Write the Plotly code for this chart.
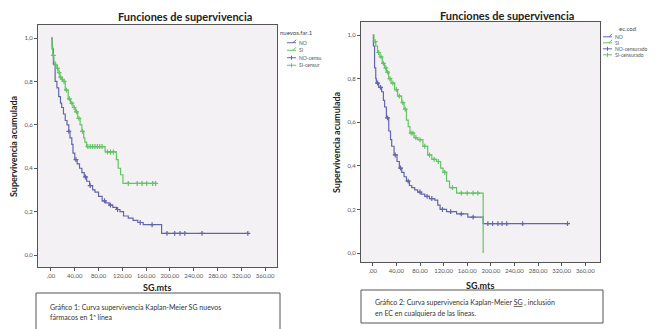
import numpy as np
import plotly.graph_objects as go

W, H = 655, 329

# ---- Kaplan-Meier estimates (time in months, cumulative survival) ----
# Panel 1: nuevos.far.1
p1_no_t = [0, 2, 4, 7, 10, 13, 16, 18, 21, 24, 27, 30, 32, 35, 37, 40, 44, 48, 52, 56,
           60, 65, 70, 74, 80, 86, 92, 98, 104, 110, 116, 122, 130, 138, 146, 155, 186]
p1_no_s = [1.0, 0.95, 0.88, 0.80, 0.77, 0.73, 0.70, 0.68, 0.65, 0.62, 0.60, 0.57, 0.54,
           0.51, 0.47, 0.44, 0.42, 0.40, 0.38, 0.36, 0.34, 0.32, 0.30, 0.29, 0.27, 0.25,
           0.24, 0.23, 0.22, 0.21, 0.20, 0.18, 0.17, 0.16, 0.15, 0.14, 0.10]
p1_no_end = 331
p1_no_cens = [30, 42, 58, 66, 90, 100, 112, 150, 170, 195, 208, 217, 225, 254, 331]

p1_si_t = [0, 2, 3, 5, 7, 10, 12, 15, 18, 20, 24, 29, 33, 37, 41, 45, 49, 52, 55, 57,
           60, 91, 110, 113, 117, 121]
p1_si_s = [1.0, 0.96, 0.92, 0.89, 0.875, 0.86, 0.84, 0.82, 0.81, 0.80, 0.76, 0.72, 0.70,
           0.68, 0.66, 0.63, 0.60, 0.57, 0.54, 0.52, 0.50, 0.475, 0.44, 0.40, 0.37, 0.33]
p1_si_end = 176
p1_si_cens = [4, 8, 11, 14, 16, 19, 22, 26, 31, 35, 39, 43, 47, 53, 62, 66, 70, 74, 78,
              82, 86, 95, 100, 105, 130, 145, 153, 161, 171, 176]

# Panel 2: ec.cod
p2_no_t = [0, 1, 3, 5, 6, 10, 15, 18, 20, 23, 27, 30, 32, 36, 41, 45, 49, 53, 57, 62,
           66, 71, 76, 82, 88, 96, 105, 110, 114, 125, 142, 161, 187]
p2_no_s = [1.0, 0.95, 0.85, 0.80, 0.78, 0.76, 0.74, 0.70, 0.67, 0.62, 0.56, 0.52, 0.49,
           0.45, 0.42, 0.39, 0.37, 0.35, 0.33, 0.31, 0.30, 0.29, 0.28, 0.27, 0.26, 0.25,
           0.243, 0.22, 0.20, 0.19, 0.18, 0.165, 0.135]
p2_no_end = 330
p2_no_cens = [8, 13, 25, 38, 47, 60, 80, 92, 100, 118, 132, 150, 170, 195, 203, 212,
              219, 227, 254, 330]

p2_si_t = [0, 2, 5, 8, 12, 16, 20, 23, 27, 31, 37, 42, 49, 53, 57, 60, 63, 70, 76, 85,
           93, 100, 108, 115, 119, 125, 130, 142, 187]
p2_si_s = [1.0, 0.97, 0.95, 0.92, 0.90, 0.87, 0.85, 0.83, 0.80, 0.78, 0.75, 0.72, 0.69,
           0.66, 0.61, 0.58, 0.55, 0.53, 0.52, 0.49, 0.45, 0.43, 0.42, 0.39, 0.37, 0.33,
           0.30, 0.275, 0.0]
p2_si_end = 187
p2_si_cens = [4, 10, 14, 18, 22, 25, 29, 34, 40, 45, 51, 55, 65, 68, 73, 80, 88, 96,
              104, 111, 122, 135, 150, 160, 170, 178]

x_ticks = [0, 40, 80, 120, 160, 200, 240, 280, 320, 360]
x_ticklabels = [",00", "40,00", "80,00", "120,00", "160,00", "200,00", "240,00",
                "280,00", "320,00", "360,00"]
y_ticks = [0.0, 0.2, 0.4, 0.6, 0.8, 1.0]
y_ticklabels = ["0,0", "0,2", "0,4", "0,6", "0,8", "1,0"]

BLUE = "#6266aa"
GREEN = "#62c462"
FONT = "Lato"


def px(x):
    return x / W


def py(y):
    return 1 - y / H


def step_value(ts, ss, t):
    idx = np.searchsorted(np.asarray(ts), t, side="right") - 1
    return np.asarray(ss)[idx]


fig = go.Figure()


def add_curve(ts, ss, t_end, cens, color, xa, ya):
    xs = list(ts) + [t_end]
    ys = list(ss) + [ss[-1]]
    fig.add_trace(go.Scatter(x=xs, y=ys, mode="lines", line=dict(color=color, width=1.2, shape="hv"),
                             xaxis=xa, yaxis=ya, showlegend=False, hoverinfo="skip"))
    cy = [float(step_value(ts, ss, c)) for c in cens]
    fig.add_trace(go.Scatter(x=cens, y=cy, mode="markers",
                             marker=dict(symbol="cross-thin", size=3.5, line=dict(color=color, width=1.2)),
                             xaxis=xa, yaxis=ya, showlegend=False, hoverinfo="skip"))


add_curve(p1_no_t, p1_no_s, p1_no_end, p1_no_cens, BLUE, "x", "y")
add_curve(p1_si_t, p1_si_s, p1_si_end, p1_si_cens, GREEN, "x", "y")
add_curve(p2_no_t, p2_no_s, p2_no_end, p2_no_cens, BLUE, "x2", "y2")
add_curve(p2_si_t, p2_si_s, p2_si_end, p2_si_cens, GREEN, "x2", "y2")

axis_common = dict(showgrid=False, zeroline=False, showline=True, mirror=True,
                   linecolor="#555", linewidth=1, ticks="outside", ticklen=3,
                   tickcolor="#555", tickfont=dict(family=FONT, size=6, color="#555"))

fig.update_layout(
    width=W, height=H, margin=dict(l=0, r=0, t=0, b=0),
    paper_bgcolor="white", plot_bgcolor="#f4f1f4", showlegend=False,
    xaxis=dict(domain=[px(38), px(277)], range=[-21.8, 380], tickvals=x_ticks,
               ticktext=x_ticklabels, anchor="y", **axis_common),
    yaxis=dict(domain=[py(267), py(25)], range=[-0.055, 1.06], tickvals=y_ticks,
               ticktext=y_ticklabels, anchor="x", **axis_common),
    xaxis2=dict(domain=[px(361), px(600)], range=[-20, 385], tickvals=x_ticks,
                ticktext=x_ticklabels, anchor="y2", **axis_common),
    yaxis2=dict(domain=[py(262), py(22)], range=[-0.041, 1.06], tickvals=y_ticks,
                ticktext=y_ticklabels, anchor="x2", **axis_common),
)

ann = []
shapes = []


def text(x, y, s, size, bold=False, xanchor="center", angle=0, color="#333"):
    ann.append(dict(x=px(x), y=py(y), xref="paper", yref="paper", text=(f"<b>{s}</b>" if bold else s),
                    showarrow=False, xanchor=xanchor, yanchor="middle", textangle=angle,
                    font=dict(family=FONT, size=size, color=color)))


# chart titles
text(185, 17, "Funciones de supervivencia", 11, bold=True, color="#222")
text(507, 15, "Funciones de supervivencia", 11, bold=True, color="#222")
# axis titles
text(157, 287, "SG.mts", 9, bold=True, color="#222")
text(480, 285, "SG.mts", 9, bold=True, color="#222")
text(13, 146, "Supervivencia acumulada", 9, bold=True, angle=-90, color="#222")
text(336, 142, "Supervivencia acumulada", 9, bold=True, angle=-90, color="#222")


# legends
def legend(x0, ytitle, title, items, step, tx_title):
    text(tx_title, ytitle, title, 6, xanchor="left", color="#444")
    for i, (lab, col, cens) in enumerate(items):
        yy = ytitle + step * (i + 1.3)
        shapes.append(dict(type="line", xref="paper", yref="paper", x0=px(x0), x1=px(x0 + 9),
                           y0=py(yy), y1=py(yy), line=dict(color=col, width=1)))
        if cens:
            shapes.append(dict(type="line", xref="paper", yref="paper", x0=px(x0 + 4.5),
                               x1=px(x0 + 4.5), y0=py(yy - 2), y1=py(yy + 2),
                               line=dict(color=col, width=1)))
        else:
            shapes.append(dict(type="line", xref="paper", yref="paper", x0=px(x0 + 6),
                               x1=px(x0 + 9), y0=py(yy), y1=py(yy - 3),
                               line=dict(color=col, width=1)))
        text(x0 + 10, yy, lab, 5, xanchor="left", color="#555")


legend(287, 33, "nuevos.far.1",
       [("NO", BLUE, False), ("SI", GREEN, False), ("NO-censu", BLUE, True), ("SI-censur", GREEN, True)],
       7.5, 278)
legend(603, 29, "ec.cod",
       [("NO", BLUE, False), ("SI", GREEN, False), ("NO-censurado", BLUE, True), ("SI-censurado", GREEN, True)],
       6, 617)

# caption boxes
shapes.append(dict(type="rect", xref="paper", yref="paper", x0=px(36), x1=px(280),
                   y0=py(335), y1=py(293), line=dict(color="#555", width=1), fillcolor="white"))
shapes.append(dict(type="rect", xref="paper", yref="paper", x0=px(361), x1=px(603),
                   y0=py(323), y1=py(290), line=dict(color="#555", width=1), fillcolor="white"))
text(48, 307, "Gráfico 1: Curva supervivencia Kaplan-Meier SG nuevos", 7, xanchor="left")
text(48, 317, "fármacos en 1ª línea", 7, xanchor="left")
text(373, 302, "Gráfico 2: Curva supervivencia Kaplan-Meier <u>SG</u> , inclusión", 7, xanchor="left")
text(373, 313, "en EC en cualquiera de las líneas.", 7, xanchor="left")

fig.update_layout(annotations=ann, shapes=shapes)
fig.write_html("out.html")
